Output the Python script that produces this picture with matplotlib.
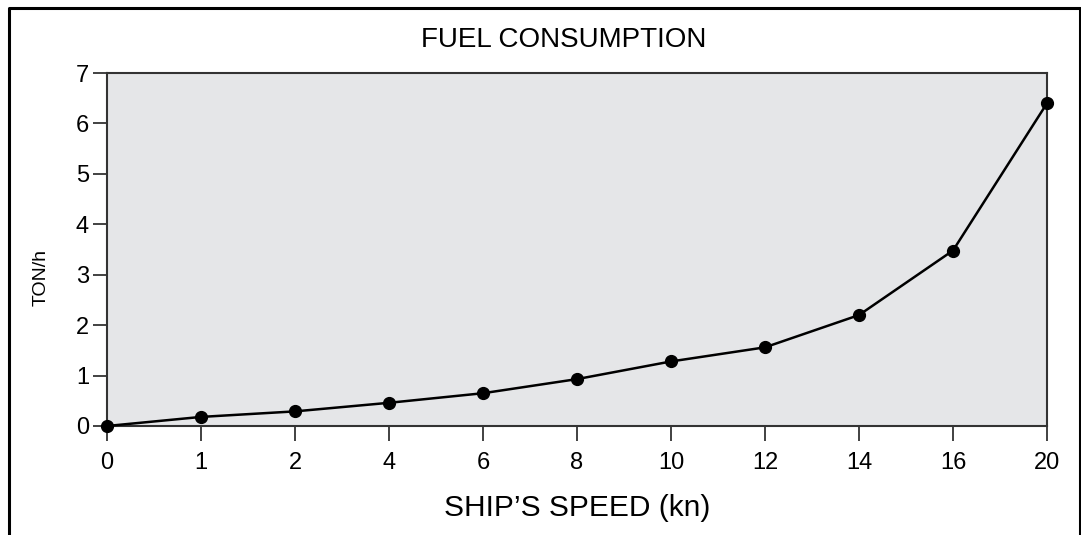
"""plot.py — Fuel consumption vs ship's speed (line chart, categorical x)."""

import matplotlib

matplotlib.use("Agg")
import matplotlib.pyplot as plt  # noqa: E402
from matplotlib.lines import Line2D  # noqa: E402

# --------------------------------------------------------------------------- #
# Data
# --------------------------------------------------------------------------- #
SPEED_LABELS = ["0", "1", "2", "4", "6", "8", "10", "12", "14", "16", "20"]
FUEL_TON_H = [0.0, 0.18, 0.29, 0.46, 0.65, 0.93, 1.28, 1.56, 2.20, 3.48, 6.40]
Y_TICKS = [0, 1, 2, 3, 4, 5, 6, 7]

TITLE = "FUEL CONSUMPTION"
XLABEL = "SHIP\u2019S SPEED (kn)"
YLABEL = "TON/h"

# --------------------------------------------------------------------------- #
# Style
# --------------------------------------------------------------------------- #
W, H, DPI = 1081, 535, 100
FACE = "#e5e6e8"
SPINE = "#333333"

plt.rcParams["font.family"] = ["Liberation Sans", "DejaVu Sans"]

fig = plt.figure(figsize=(W / DPI, H / DPI), dpi=DPI)
ax = fig.add_axes([107 / W, 1 - 426 / H, (1047 - 107) / W, (426 - 73) / H])
ax.set_facecolor(FACE)

x = list(range(len(SPEED_LABELS)))
ax.plot(x, FUEL_TON_H, color="black", lw=1.8, marker="o", ms=8.5,
        mfc="black", mec="black", clip_on=False, zorder=3)

ax.set_xlim(0, len(SPEED_LABELS) - 1)
ax.set_ylim(0, 7)
ax.set_xticks(x)
ax.set_xticklabels(SPEED_LABELS)
ax.set_yticks(Y_TICKS)

for side in ("left", "right", "top", "bottom"):
    ax.spines[side].set_color(SPINE)
    ax.spines[side].set_linewidth(1.5)

ax.tick_params(axis="x", direction="out", length=11, width=1.3, pad=8,
               labelsize=17, colors=SPINE, labelcolor="black")
ax.tick_params(axis="y", direction="out", length=10, width=1.3, pad=3,
               labelsize=17, colors=SPINE, labelcolor="black")

fig.text(563.5 / W, 1 - 40 / H, TITLE, ha="center", va="center", fontsize=20)
fig.text(577 / W, 1 - 508 / H, XLABEL, ha="center", va="center", fontsize=21.5)
fig.text(41 / W, 1 - 278 / H, YLABEL, ha="center", va="center",
         fontsize=14, rotation=90)

# Open frame around the figure (no bottom edge)
xl, xr, yt = 8.5 / W, 1079.5 / W, 1 - 7.5 / H
fig.add_artist(Line2D([xl, xl, xr, xr], [0, yt, yt, 0],
                      transform=fig.transFigure, color="black", lw=2.2))

fig.savefig("out.png", dpi=DPI)
plt.close(fig)
